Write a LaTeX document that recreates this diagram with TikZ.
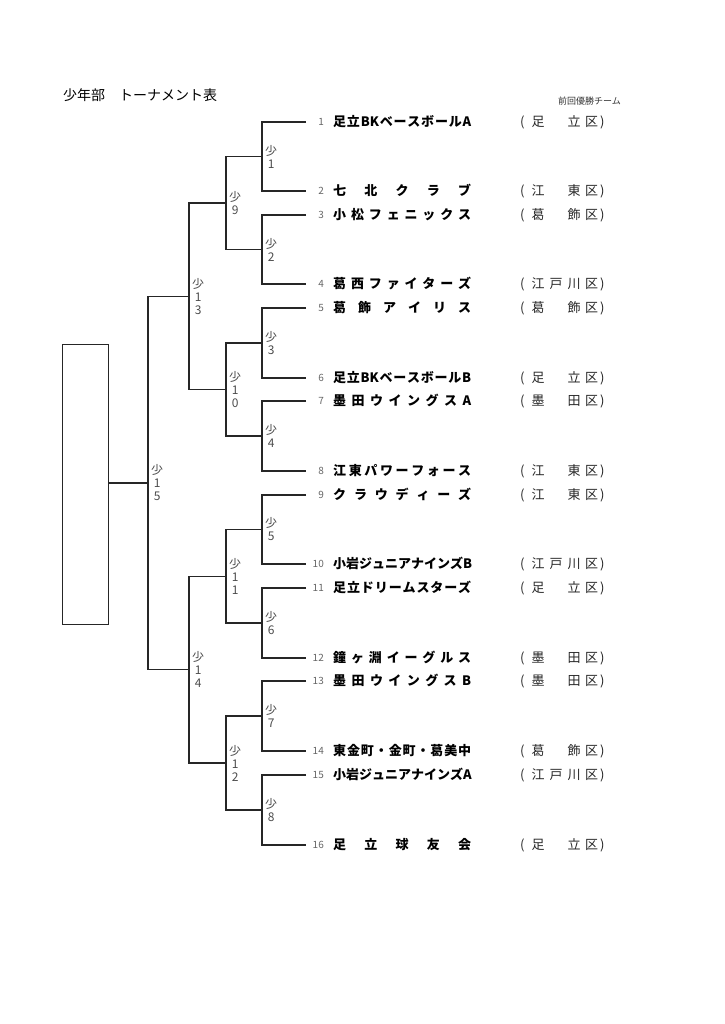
\documentclass[tikz,border=0pt]{standalone}
\usepackage{fontspec}
\newfontfamily\cjk{Noto Sans CJK JP}
\usetikzlibrary{calc}
\newcommand\hf{\hfill}
\begin{document}
\begin{tikzpicture}[x=1pt,y=-1pt,
  bl/.style={line width=1.4pt, draw=black!85},
  rl/.style={font=\cjk\fontsize{12}{13}\selectfont, text=black!70, align=center, anchor=west, inner sep=0pt, xshift=3pt},
  num/.style={font=\cjk\fontsize{10}{12}\selectfont, text=black!60, anchor=east, inner sep=0pt, text height=7.3pt, text depth=0pt},
  team/.style={font=\cjk\bfseries\fontsize{13}{15}\selectfont, anchor=west, inner sep=0pt, text height=11.4pt, text depth=1.6pt},
  dist/.style={font=\cjk\fontsize{13}{15}\selectfont, text=black!85, anchor=west, inner sep=0pt, text height=11.4pt, text depth=1.6pt}]
\useasboundingbox (0,0) rectangle (724,1024);

\node[anchor=west, inner sep=0pt, font=\cjk\fontsize{14}{16}\selectfont] (title) at (63,95) {少年部　トーナメント表};
\node[anchor=east, inner sep=0pt, font=\cjk\fontsize{9}{10}\selectfont, text=black!80] (prev) at (621,101) {前回優勝チーム};

\foreach \i/\y/\nm/\da/\db/\dc in {
 1/122/{足\hf 立\hf BK\hf ベ\hf ー\hf ス\hf ボ\hf ー\hf ル\hf A}/足/{}/立,
 2/191/{七\hf 北\hf ク\hf ラ\hf ブ}/江/{}/東,
 3/215/{小\hf 松\hf フ\hf ェ\hf ニ\hf ッ\hf ク\hf ス}/葛/{}/飾,
 4/284/{葛\hf 西\hf フ\hf ァ\hf イ\hf タ\hf ー\hf ズ}/江/戸/川,
 5/308/{葛\hf 飾\hf ア\hf イ\hf リ\hf ス}/葛/{}/飾,
 6/378/{足\hf 立\hf BK\hf ベ\hf ー\hf ス\hf ボ\hf ー\hf ル\hf B}/足/{}/立,
 7/401/{墨\hf 田\hf ウ\hf イ\hf ン\hf グ\hf ス\hf A}/墨/{}/田,
 8/471/{江\hf 東\hf パ\hf ワ\hf ー\hf フ\hf ォ\hf ー\hf ス}/江/{}/東,
 9/495/{ク\hf ラ\hf ウ\hf デ\hf ィ\hf ー\hf ズ}/江/{}/東,
 10/564/{小\hf 岩\hf ジ\hf ュ\hf ニ\hf ア\hf ナ\hf イ\hf ン\hf ズ\hf B}/江/戸/川,
 11/588/{足\hf 立\hf ド\hf リ\hf ー\hf ム\hf ス\hf タ\hf ー\hf ズ}/足/{}/立,
 12/658/{鐘\hf ヶ\hf 淵\hf イ\hf ー\hf グ\hf ル\hf ス}/墨/{}/田,
 13/681/{墨\hf 田\hf ウ\hf イ\hf ン\hf グ\hf ス\hf B}/墨/{}/田,
 14/751/{東\hf 金\hf 町\hf ・\hf 金\hf 町\hf ・\hf 葛\hf 美\hf 中}/葛/{}/飾,
 15/775/{小\hf 岩\hf ジ\hf ュ\hf ニ\hf ア\hf ナ\hf イ\hf ン\hf ズ\hf A}/江/戸/川,
 16/845/{足\hf 立\hf 球\hf 友\hf 会}/足/{}/立} {
  \coordinate (s\i) at (262,\y);
  \coordinate (e\i) at (306,\y);
  \node[num] (n\i) at (324,\y) {\i};
  \node[team] (t\i) at (333,\y) {\makebox[138pt][l]{\nm}};
  \node[dist] (d\i) at (520,\y) {\makebox[9pt][l]{(}\makebox[18pt]{\da}\makebox[18pt]{\db}\makebox[18pt]{\dc}\makebox[17pt]{区}\makebox[6pt][l]{)}};
}

\coordinate (X2) at (226,0);
\coordinate (X3) at (189,0);
\coordinate (X4) at (148,0);

% round 1
\foreach \k/\a/\b in {1/1/2,2/3/4,3/5/6,4/7/8,5/9/10,6/11/12,7/13/14,8/15/16} {
  \draw[bl] (e\a) -- (s\a) -- (s\b) -- (e\b);
  \coordinate (m\k) at ($(s\a)!0.5!(s\b)$);
  \node[rl] (lm\k) at (m\k) {少\\\k};
}
% round 2
\foreach \k/\a/\b in {1/1/2,2/3/4,3/5/6,4/7/8} {
  \draw[bl] (m\a) -- (m\a -| X2) -- (m\b -| X2) -- (m\b);
  \coordinate (q\k) at ($(m\a -| X2)!0.5!(m\b -| X2)$);
}
\node[rl] (lq1) at (q1) {少\\9};
\node[rl] (lq2) at (q2) {少\\1\\0};
\node[rl] (lq3) at (q3) {少\\1\\1};
\node[rl] (lq4) at (q4) {少\\1\\2};
% round 3
\foreach \k/\a/\b in {1/1/2,2/3/4} {
  \draw[bl] (q\a) -- (q\a -| X3) -- (q\b -| X3) -- (q\b);
  \coordinate (w\k) at ($(q\a -| X3)!0.5!(q\b -| X3)$);
}
\node[rl] (lw1) at (w1) {少\\1\\3};
\node[rl] (lw2) at (w2) {少\\1\\4};
% final
\draw[bl] (w1) -- (w1 -| X4) -- (w2 -| X4) -- (w2);
\coordinate (f) at ($(w1 -| X4)!0.5!(w2 -| X4)$);
\node[rl] (lf) at (f) {少\\1\\5};

\node[bl, draw, minimum width=46pt, minimum height=280pt, inner sep=0pt, anchor=north west] (box) at (62,344) {};
\draw[bl] (f) -- (f -| box.east);
\end{tikzpicture}
\end{document}
